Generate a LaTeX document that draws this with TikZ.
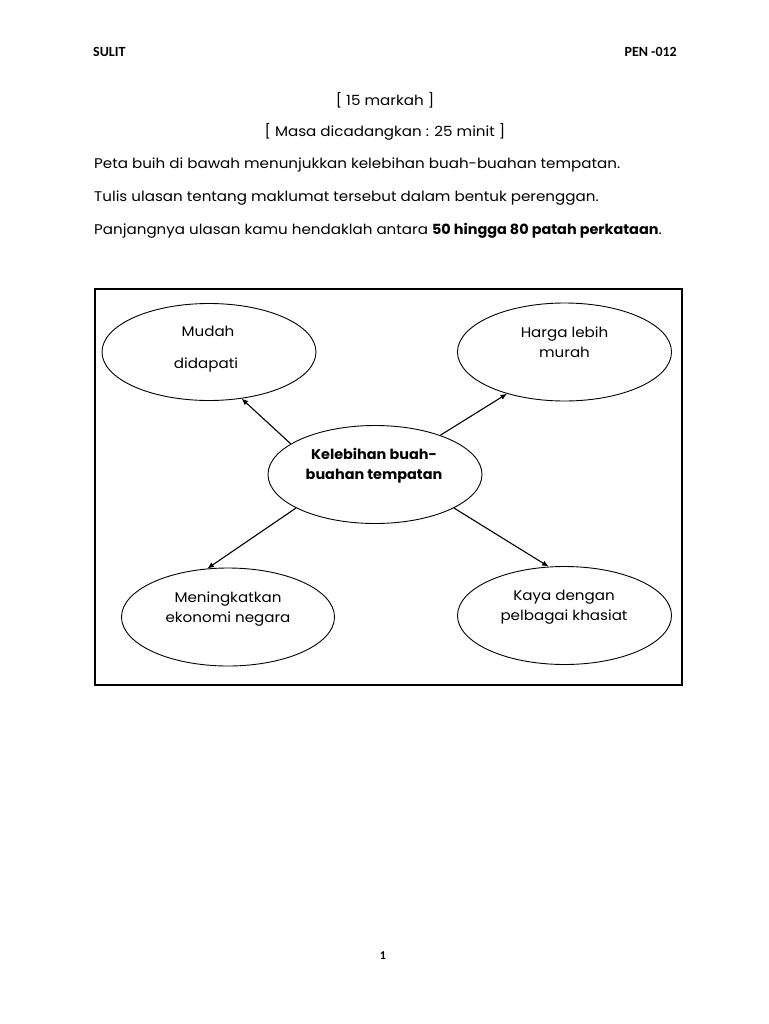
\documentclass[tikz,border=0pt]{standalone}
\usepackage{fontspec}
\usetikzlibrary{shapes.geometric,arrows.meta}
\newfontfamily\gothic{Poppins}[FakeStretch=1.08, BoldFeatures={FakeStretch=1.03}]
\newfontfamily\calib{Carlito}
\tikzset{
  px/.style={x=1pt,y=-1pt},
  bubble/.style={draw, line width=0.9pt, ellipse, inner sep=0pt, minimum width=#1},
  btext/.style={font=\gothic\fontsize{14}{20}\selectfont, align=center, inner sep=0pt},
  ptext/.style={font=\gothic\fontsize{14}{16}\selectfont, inner sep=0pt},
  hdr/.style={font=\calib\bfseries\fontsize{14}{16}\selectfont, inner sep=0pt},
  arr/.style={-{Latex[length=6.5pt,width=5.5pt]}, line width=1.1pt}
}
\begin{document}
\begin{tikzpicture}[px]
\useasboundingbox[fill=white] (0,0) rectangle (768,1024);
% header
\node[hdr, anchor=west] (sulit) at (93,52) {SULIT};
\node[hdr, anchor=east] (pen) at (677,52) {PEN -012};
% instructions
\node[ptext] (markah) at (385,100) {[ 15 markah ]};
\node[ptext] (masa) at (385,132) {[ Masa dicadangkan : 25 minit ]};
\node[ptext, anchor=mid west] (l1) at (94,166) {Peta buih di bawah menunjukkan kelebihan buah-buahan tempatan.};
\node[ptext, anchor=mid west] (l2) at (94,199.5) {Tulis ulasan tentang maklumat tersebut dalam bentuk perenggan.};
\node[ptext, anchor=mid west] (l3) at (94,232) {Panjangnya ulasan kamu hendaklah antara \textbf{50 hingga 80 patah perkataan}.};
% frame
\draw[line width=1.1pt] (95,289) rectangle (682,685);
% bubbles
\node[bubble=214pt, minimum height=97pt] (tl) at (209,352) {};
\node[bubble=214pt, minimum height=98pt] (tr) at (564.5,352) {};
\node[bubble=214pt, minimum height=98pt] (c) at (375,474.5) {};
\node[bubble=213pt, minimum height=98pt] (bl) at (228,617) {};
\node[bubble=214pt, minimum height=98pt] (br) at (564.5,615.5) {};
% bubble texts
\node[btext, anchor=mid] (tlt1) at (208,334) {Mudah};
\node[btext, anchor=mid] (tlt2) at (206,366.5) {didapati};
\node[btext, anchor=north] (trt) at (564.5,326.5) {Harga lebih\\murah};
\node[btext, anchor=north, font=\gothic\bfseries\fontsize{14}{19.5}\selectfont] (ct) at (374,448.5) {Kelebihan buah-\\buahan tempatan};
\node[btext, anchor=north] (blt) at (228,592) {Meningkatkan\\ekonomi negara};
\node[btext, anchor=north] (brt) at (564,590) {Kaya dengan\\pelbagai khasiat};
% arrows
\draw[arr] (c.160) -- (tl.305);
\draw[arr] (c.31.5) -- (tr.216);
\draw[arr] (c.203.7) -- (bl.113.5);
\draw[arr] (c.337.7) -- (br.108.7);
% page number
\node[hdr, font=\calib\bfseries\fontsize{12}{14}\selectfont] (pg) at (383,956) {1};
\end{tikzpicture}
\end{document}
